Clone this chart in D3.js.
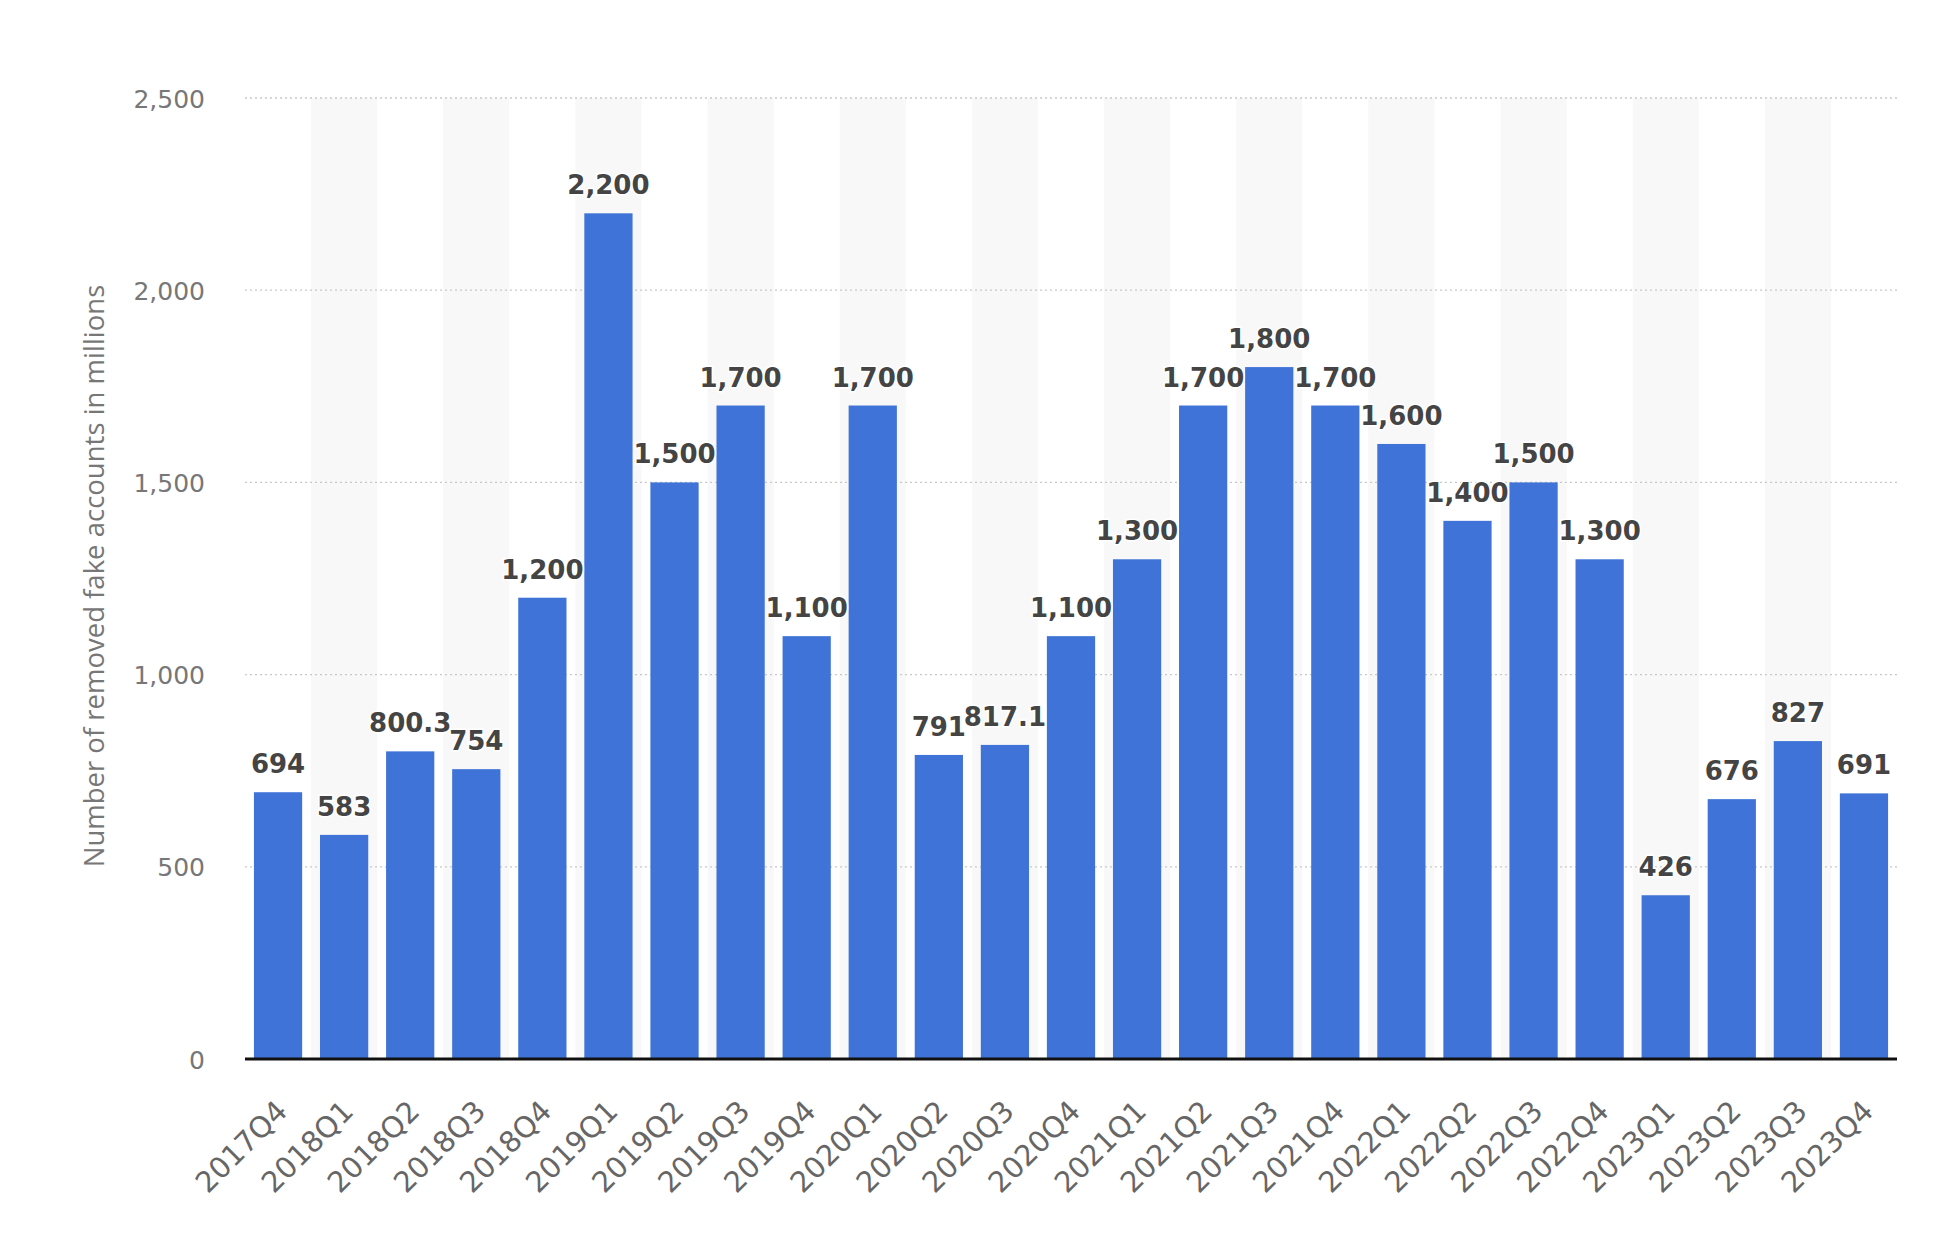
<!DOCTYPE html>
<html><head><meta charset="utf-8">
<script src="https://cdn.jsdelivr.net/npm/d3@7"></script>
<style>body{margin:0;background:#fff;} svg{display:block;}</style>
</head><body>
<svg id="chart" width="1938" height="1234"></svg>
<script>
const categories = ["2017Q4","2018Q1","2018Q2","2018Q3","2018Q4","2019Q1","2019Q2","2019Q3","2019Q4","2020Q1","2020Q2","2020Q3","2020Q4","2021Q1","2021Q2","2021Q3","2021Q4","2022Q1","2022Q2","2022Q3","2022Q4","2023Q1","2023Q2","2023Q3","2023Q4"];
const values = [694,583,800.3,754,1200,2200,1500,1700,1100,1700,791,817.1,1100,1300,1700,1800,1700,1600,1400,1500,1300,426,676,827,691];
const yTicks = [0,500,1000,1500,2000,2500];
const yTitle = "Number of removed fake accounts in millions";

const svg = d3.select("#chart");
const m = {left:245, right:1897, top:98, bottom:1059};
const x = d3.scaleBand().domain(categories).range([m.left, m.right]).padding(0);
const y = d3.scaleLinear().domain([0,2500]).range([m.bottom, m.top]);
const fmt = d3.format(",");

// alternating band shading
svg.append("g").selectAll("rect").data(categories.filter((d,i)=>i%2===1)).join("rect")
  .attr("x", d=>x(d)).attr("width", x.bandwidth())
  .attr("y", y(2500)).attr("height", y(0)-y(2500))
  .attr("fill", "#f8f8f8");

// gridlines
svg.append("g").selectAll("line").data(yTicks.filter(t=>t>0)).join("line")
  .attr("x1", m.left).attr("x2", m.right)
  .attr("y1", d=>y(d)).attr("y2", d=>y(d))
  .attr("stroke", "#c8c8c8").attr("stroke-width", 1.3).attr("stroke-dasharray", "2,3");

// y axis labels
const yAxis = d3.axisLeft(y).tickValues(yTicks).tickFormat(fmt).tickSize(0).tickPadding(0);
const gy = svg.append("g").attr("transform", `translate(${m.left-40},0)`).call(yAxis);
gy.select(".domain").remove();
gy.selectAll("text").attr("font-family","'DejaVu Sans', sans-serif").attr("font-size", 25).attr("fill","#777").attr("dy","0.36em");

// y title
svg.append("text").attr("transform", `translate(104,576) rotate(-90)`)
  .attr("text-anchor","middle")
  .attr("font-family","'Open Sans', sans-serif").attr("font-size", 27.5).attr("fill","#777")
  .text(yTitle);

// bars
const bw = x.bandwidth()*0.73;
svg.append("g").selectAll("rect").data(values).join("rect")
  .attr("x", (d,i)=>x(categories[i]) + (x.bandwidth()-bw)/2)
  .attr("width", bw)
  .attr("y", d=>y(d)).attr("height", d=>y(0)-y(d))
  .attr("fill", "#3f73d7");

// value labels
svg.append("g").selectAll("text").data(values).join("text")
  .attr("x", (d,i)=>x(categories[i]) + x.bandwidth()/2)
  .attr("y", d=>y(d)-19)
  .attr("text-anchor","middle")
  .attr("font-family","'DejaVu Sans', sans-serif").attr("font-weight","bold").attr("font-size", 26)
  .attr("fill","#444").attr("stroke","#fff").attr("stroke-width",3).attr("paint-order","stroke")
  .text(d=>fmt(d));

// x axis
const xAxis = d3.axisBottom(x).tickSize(0).tickPadding(0);
const gx = svg.append("g").attr("transform", `translate(0,${m.bottom})`).call(xAxis);
gx.select(".domain").remove();
gx.selectAll("text")
  .attr("font-family","'DejaVu Sans', sans-serif").attr("font-size", 29).attr("fill","#666")
  .attr("text-anchor","end").attr("dy", null).attr("y", null)
  .attr("transform", "translate(11,54) rotate(-45)");

svg.append("line").attr("x1", m.left).attr("x2", m.right).attr("y1", m.bottom).attr("y2", m.bottom)
  .attr("stroke","#111").attr("stroke-width",3);
</script>
</body></html>
